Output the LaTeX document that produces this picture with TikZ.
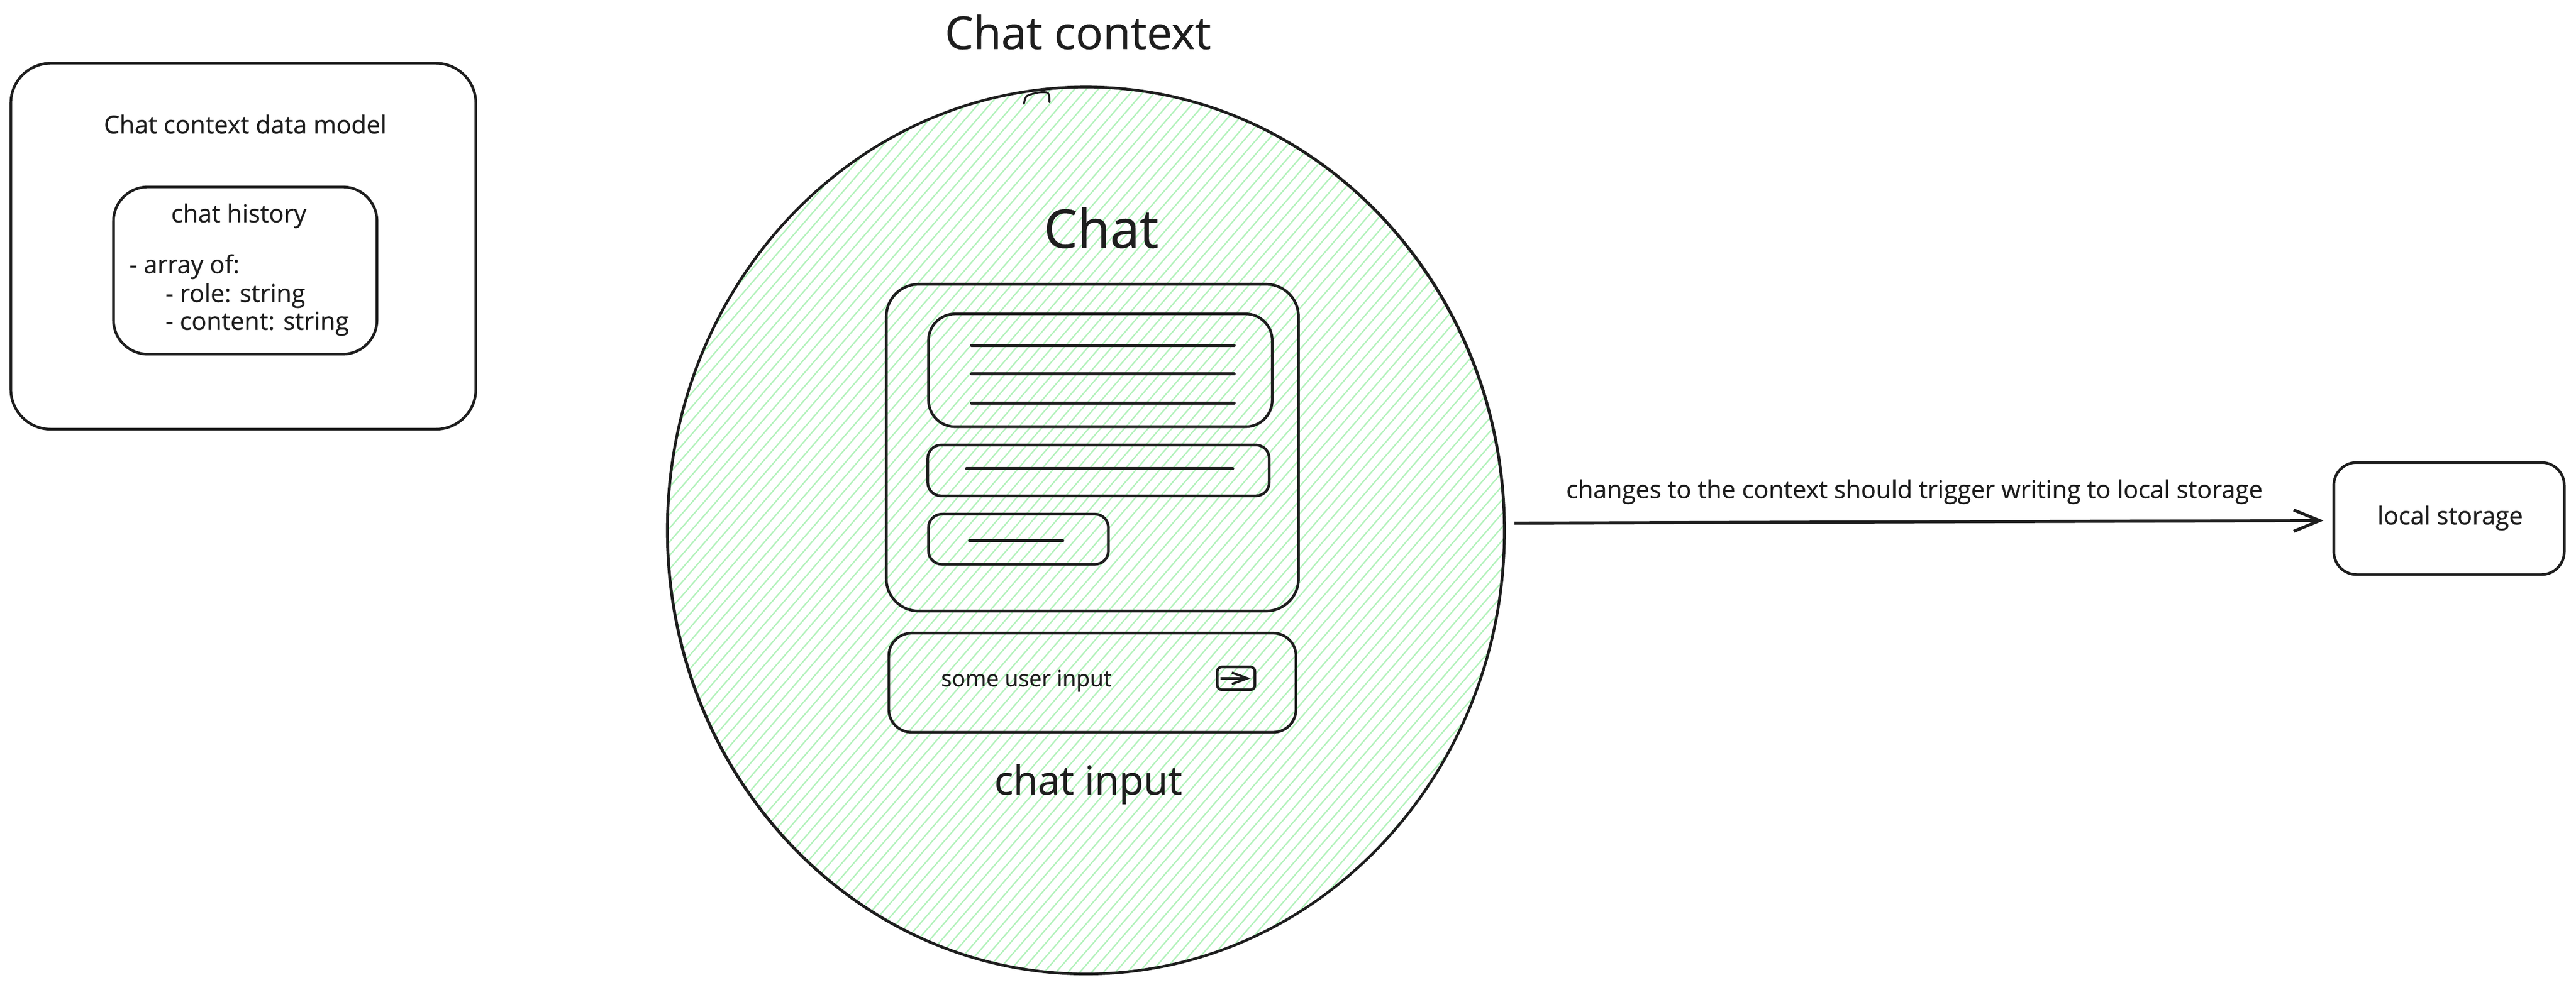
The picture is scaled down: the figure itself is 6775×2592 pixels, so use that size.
\documentclass[tikz,border=0pt]{standalone}
\usepackage{fontspec}
\setmainfont[FakeBold=0.5]{Open Sans}
\usepackage{xcolor}
\definecolor{ink_black}{RGB}{30,30,30}
\definecolor{hatch_green}{RGB}{178,242,187}
\usepackage{tikz}
\usetikzlibrary{positioning, shapes.geometric, arrows.meta}
\tikzstyle{panel} = [rectangle, draw=ink_black, line width=7pt, inner sep=0pt, outer sep=0pt]
\tikzstyle{note} = [text=ink_black, inner sep=0pt, font=\fontsize{65}{75}\selectfont]
\tikzstyle{heading} = [text=ink_black, inner sep=0pt, font=\fontsize{105}{120}\selectfont]
\tikzstyle{arrow} = [ink_black, line width=8pt, -{Straight Barb[length=68pt, width=56pt]}]
\tikzstyle{textline} = [ink_black, line width=8pt, line cap=round]

\begin{document}
\begin{tikzpicture}[x=1pt, y=-1pt]

    \useasboundingbox (0,0) rectangle (6775,2592);

    \begin{scope}
        \clip (2856,1396) ellipse [x radius=1101, y radius=1167];
        \foreach \hatchy in {200,236,...,5000} {
            \draw[hatch_green, line width=3.6pt] (1700,\hatchy) -- (4000,\hatchy-2650);
        }
    \end{scope}

    \node[ellipse, draw=ink_black, line width=7pt, inner sep=0pt, outer sep=0pt,
          minimum width=2202pt, minimum height=2334pt] (context) at (2856,1396) {};
    \draw[ink_black, line width=4pt, rotate around={0.7:(2856,1396)}]
        (2856,1396) ellipse [x radius=1099, y radius=1166];
    \draw[ink_black, line width=5pt, line cap=round]
        (2693,273) .. controls (2696,258) and (2698,252) .. (2706,250)
        .. controls (2722,244) and (2740,241) .. (2752,243)
        .. controls (2758,244) and (2760,248) .. (2760,269);

    \node[heading, anchor=base, font=\fontsize{119}{130}\selectfont] (contexttitle) at (2835,129) {Chat context};
    \node[heading, anchor=base, font=\fontsize{140}{160}\selectfont] (chattitle) at (2896,652) {Chat};

    \node[panel, minimum width=1223pt, minimum height=963pt, rounded corners=105pt] (model) at (640,648) {};
    \node[panel, minimum width=693pt, minimum height=440pt, rounded corners=90pt] (history) at (645,712) {};
    \node[note, anchor=base] (modeltitle) at (645,351) {Chat context data model};
    \node[note, anchor=base] (historytitle) at (628,585) {chat history};
    \node[note, anchor=base west] (arrayof) at (340,719) {- array of:};
    \node[note, anchor=base west] (rolefield) at (435,795) {- role: string};
    \node[note, anchor=base west] (contentfield) at (435,868) {- content: string};

    \node[panel, minimum width=1084pt, minimum height=860pt, rounded corners=85pt] (frame) at (2873,1178) {};
    \node[panel, minimum width=904pt, minimum height=297pt, rounded corners=70pt, anchor=north west] (msgone) at (2442,826) {};
    \node[panel, minimum width=898pt, minimum height=134pt, rounded corners=35pt] (msgtwo)
        [below=48pt of msgone.south west, anchor=north west, xshift=-2pt] {};
    \node[panel, minimum width=473pt, minimum height=132pt, rounded corners=35pt] (msgthree)
        [below=48pt of msgtwo.south west, anchor=north west, xshift=2pt] {};
    \node[panel, minimum width=1071pt, minimum height=261pt, rounded corners=60pt] (inputbox) [below=58pt of frame] {};
    \node[panel, minimum width=99pt, minimum height=60pt, rounded corners=12pt] (send) at (3251,1785) {};
    \node[note, anchor=base west, font=\fontsize{59}{75}\selectfont] (inputtext) at (2475,1806) {some user input};
    \node[heading, anchor=base] (inputtitle) at (2862,2091) {chat input};

    \foreach \liney in {909,984,1061} {
        \draw[textline] (2555,\liney) -- (3246,\liney);
    }
    \draw[textline] (2542,1233) -- (3242,1233);
    \draw[textline] (2550,1423) -- (2795,1423);

    \node[panel, minimum width=606pt, minimum height=295pt, rounded corners=60pt] (storage) at (6441,1364.5) {};
    \node[note, anchor=base] (storagetext) at (6444,1380) {local storage};
    \node[note, anchor=base] (changes) at (5035,1311) {changes to the context should trigger writing to local storage};

    \draw[arrow, shorten <=26pt, shorten >=27pt] (context.1) to (storage.181.6);
    \draw[ink_black, line width=6pt, -{Straight Barb[length=41pt, width=30pt]}, shorten <=8pt, shorten >=11pt] (send.west) to (send.east);

\end{tikzpicture}
\end{document}
